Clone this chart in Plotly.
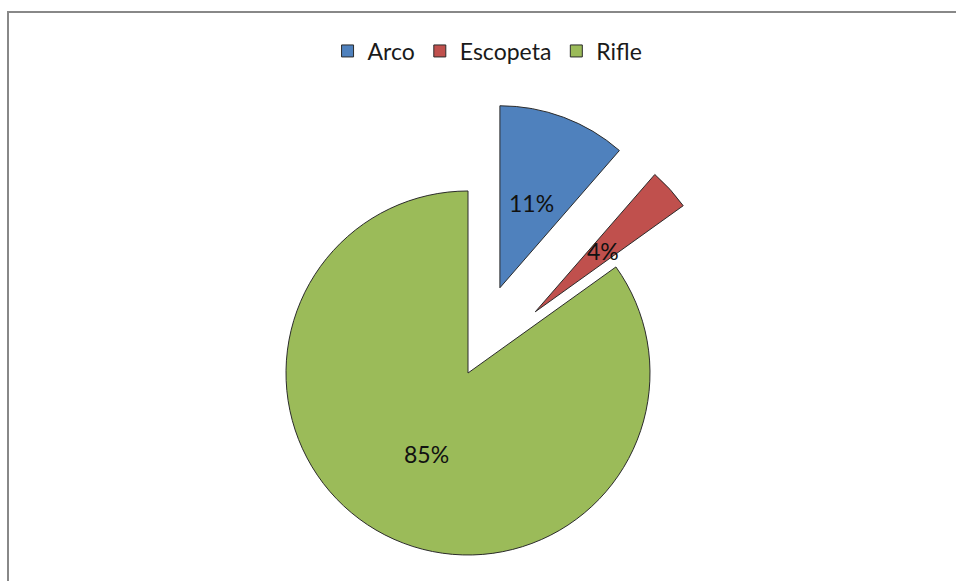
import math
import plotly.graph_objects as go

# ---- data ----
labels = ["Arco", "Escopeta", "Rifle"]
values = [11.4, 3.7, 84.9]
colors = ["#4F81BD", "#C0504D", "#9BBB59"]
explode = [0.5, 0.5, 0.0]

# ---- layout constants (pixels) ----
W, H = 956, 581
CX, CY, R = 468, 373, 182
FONT = "Lato"
EDGE = "#2b2b2b"
CLEAR = "rgba(0,0,0,0)"

total = sum(values)
fig = go.Figure()

# legend-source trace (tiny, hidden under the Rifle slice)
lx, ly = CX - 80, CY + 60
fig.add_trace(go.Pie(
    labels=labels, values=values, sort=False, direction="clockwise", rotation=0,
    marker=dict(colors=colors, line=dict(color=EDGE, width=1)),
    textinfo="none", hoverinfo="skip", showlegend=True,
    domain=dict(x=[lx / W, (lx + 0.02) / W], y=[1 - (ly + 0.02) / H, 1 - ly / H]),
))

annotations = []
cum = 0.0
for i, lab in enumerate(labels):
    frac = values[i] / total
    mid = (cum + frac / 2) * 2 * math.pi
    cum += frac
    cx = CX + explode[i] * R * math.sin(mid)
    cy = CY - explode[i] * R * math.cos(mid)
    fills = [c if j == i else CLEAR for j, c in enumerate(colors)]
    lines = [EDGE if j == i else CLEAR for j in range(len(labels))]
    fig.add_trace(go.Pie(
        labels=labels, values=values, sort=False, direction="clockwise", rotation=0,
        marker=dict(colors=fills, line=dict(color=lines, width=1)),
        textinfo="none", hoverinfo="skip", showlegend=False,
        domain=dict(x=[(cx - R) / W, (cx + R) / W], y=[1 - (cy + R) / H, 1 - (cy - R) / H]),
    ))
    tx = cx + 0.5 * R * math.sin(mid)
    ty = cy - 0.5 * R * math.cos(mid)
    annotations.append(dict(
        x=tx / W, y=1 - ty / H, xref="paper", yref="paper",
        text=f"{round(frac * 100)}%", showarrow=False,
        font=dict(family=FONT, size=23, color="#111111"),
        xanchor="center", yanchor="middle",
    ))

fig.update_layout(
    width=W, height=H,
    margin=dict(l=0, r=0, t=0, b=0),
    paper_bgcolor="white", plot_bgcolor="white",
    annotations=annotations,
    legend=dict(
        orientation="h", x=0.51, xanchor="center", y=1 - 51 / H, yanchor="middle",
        font=dict(family=FONT, size=23, color="#1a1a1a"),
        itemwidth=30, traceorder="normal",
    ),
    shapes=[dict(
        type="rect", xref="paper", yref="paper",
        x0=8 / W, x1=1.02, y0=-0.02, y1=1 - 12 / H,
        line=dict(color="#888888", width=2), fillcolor=CLEAR, layer="below",
    )],
)

fig.write_html(
    "out.html",
    config={"displayModeBar": False},
    post_script="document.body.style.margin='0';document.body.style.overflow='hidden';",
)
